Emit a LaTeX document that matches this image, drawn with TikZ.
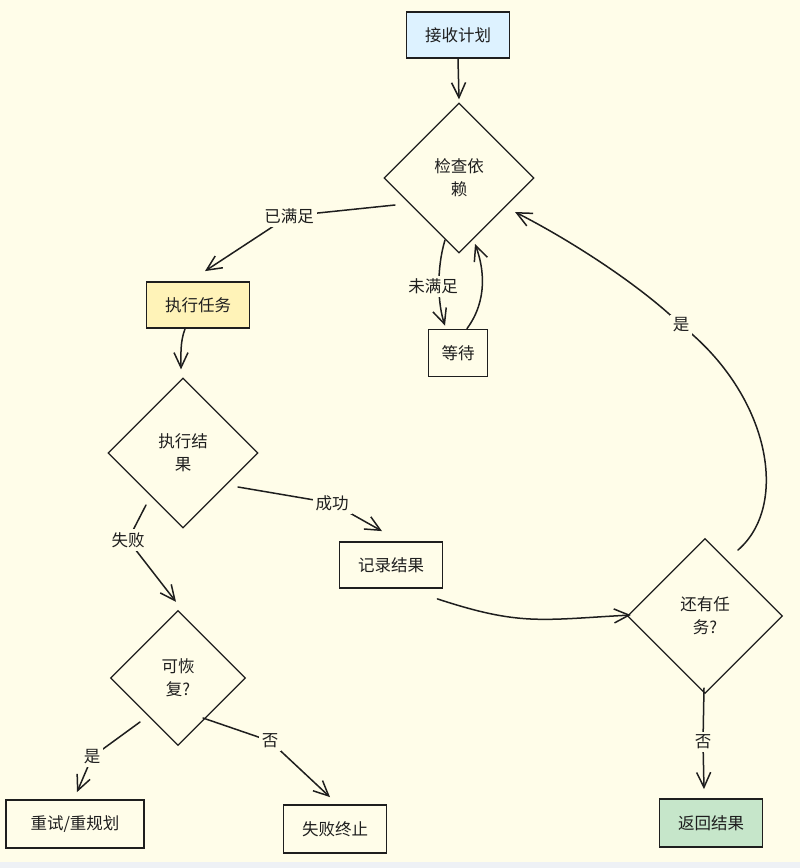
\documentclass[tikz,border=0pt]{standalone}
\usepackage{fontspec}
\setmainfont{Noto Sans CJK SC}
\usetikzlibrary{shapes.geometric,arrows.meta,calc}
\definecolor{bgc}{HTML}{FFFDE9}
\definecolor{stripc}{HTML}{EEF1F5}
\definecolor{inkc}{HTML}{1E1E1E}
\definecolor{bluef}{HTML}{DDF2FF}
\definecolor{yellowf}{HTML}{FFF3B8}
\definecolor{greenf}{HTML}{C6E6CA}
\tikzset{
  boxn/.style={draw=inkc, line width=1.8pt, rectangle, minimum width=103pt, minimum height=46pt, inner sep=0pt, font=\fontsize{16.5}{20}\selectfont, text=inkc},
  dia/.style={draw=inkc, line width=1.3pt, diamond, minimum width=#1, minimum height=#1, inner sep=0pt, align=center, font=\fontsize{16.5}{23}\selectfont, text=inkc},
  arr/.style={draw=inkc, line width=1.5pt, line cap=round, line join=round, -{Straight Barb[length=15pt,width=14pt,line width=1.5pt]}},
  lbl/.style={fill=bgc, inner sep=3pt, font=\fontsize{16.5}{20}\selectfont, text=inkc}
}
\begin{document}
\begin{tikzpicture}[x=1pt,y=-1pt]
\fill[bgc] (0,0) rectangle (800,862);
\fill[stripc] (0,862) rectangle (800,868);
\useasboundingbox (0,0) rectangle (800,868);

% nodes
\node[boxn, fill=bluef] (n1) at (458,35) {接收计划};
\node[dia=150pt] (d1) at (459,178) {检查依\\赖};
\node[boxn, minimum width=59pt, minimum height=47pt] (wait) at (458,353) {等待};
\node[boxn, fill=yellowf] (n2) at (198,305) {执行任务};
\node[dia=150pt] (d2) at (183,453) {执行结\\果};
\node[boxn] (rec) at (391,565) {记录结果};
\node[dia=135pt] (d3) at (178,678) {可恢\\复?};
\node[boxn, minimum width=138pt, minimum height=48pt] (retry) at (75,824) {重试/重规划};
\node[boxn, minimum height=48pt] (fail) at (335,829) {失败终止};
\node[dia=155pt] (d4) at (705,616) {还有任\\务?};
\node[boxn, fill=greenf, minimum height=48pt] (ret) at (711,823) {返回结果};

% edges
\draw[arr] (n1.south) -- ($(d1.north)+(0,-3)$);
\draw[arr] ($(d1)+(-64,27)$) -- (289,216) node[lbl] {已满足} -- ($(n2.north)+(7,-10)$);
\draw[arr] ($(d1)+(-14,62)$) .. controls (436,270) and (438,305) .. ($(wait.north)+(-13,-3)$)
  node[lbl, pos=0.5, xshift=-6pt] {未满足};
\draw[arr] ($(wait.north)+(9,0)$) .. controls (488,300) and (484,268) .. ($(d1)+(16,66)$);
\draw[arr] ($(n2.south)+(-13,0)$) .. controls (180,342) and (181,355) .. ($(d2.north)+(-2,-8)$);
\draw[arr] ($(d2)+(55,34)$) -- (332,503) node[lbl] {成功} -- ($(rec.north)+(-9,-10)$);
\draw[arr] ($(d2)+(-37,52)$) -- (128,540) node[lbl] {失败} -- ($(d3.north)+(-2,-8)$);
\draw[arr] ($(rec.south east)+(-6,10)$) .. controls (520,626) and (540,620) .. ($(d4.west)+(4,-1)$);
\draw[arr] ($(d4)+(33,-66)$) .. controls (790,505) and (770,395) .. (681,325)
  node[lbl] {是}
  .. controls (640,285) and (570,240) .. ($(d1)+(56,34)$);
\draw[arr] ($(d4)+(-1,72)$) -- (703,742) node[lbl] {否} -- ($(ret.north)+(-7,-9)$);
\draw[arr] ($(d3)+(-38,44)$) -- (92,757) node[lbl] {是} -- ($(retry.north)+(2,-7)$);
\draw[arr] ($(d3)+(25,40)$) -- (270,741) node[lbl] {否} -- ($(fail.north)+(-5,-7)$);
\end{tikzpicture}
\end{document}
